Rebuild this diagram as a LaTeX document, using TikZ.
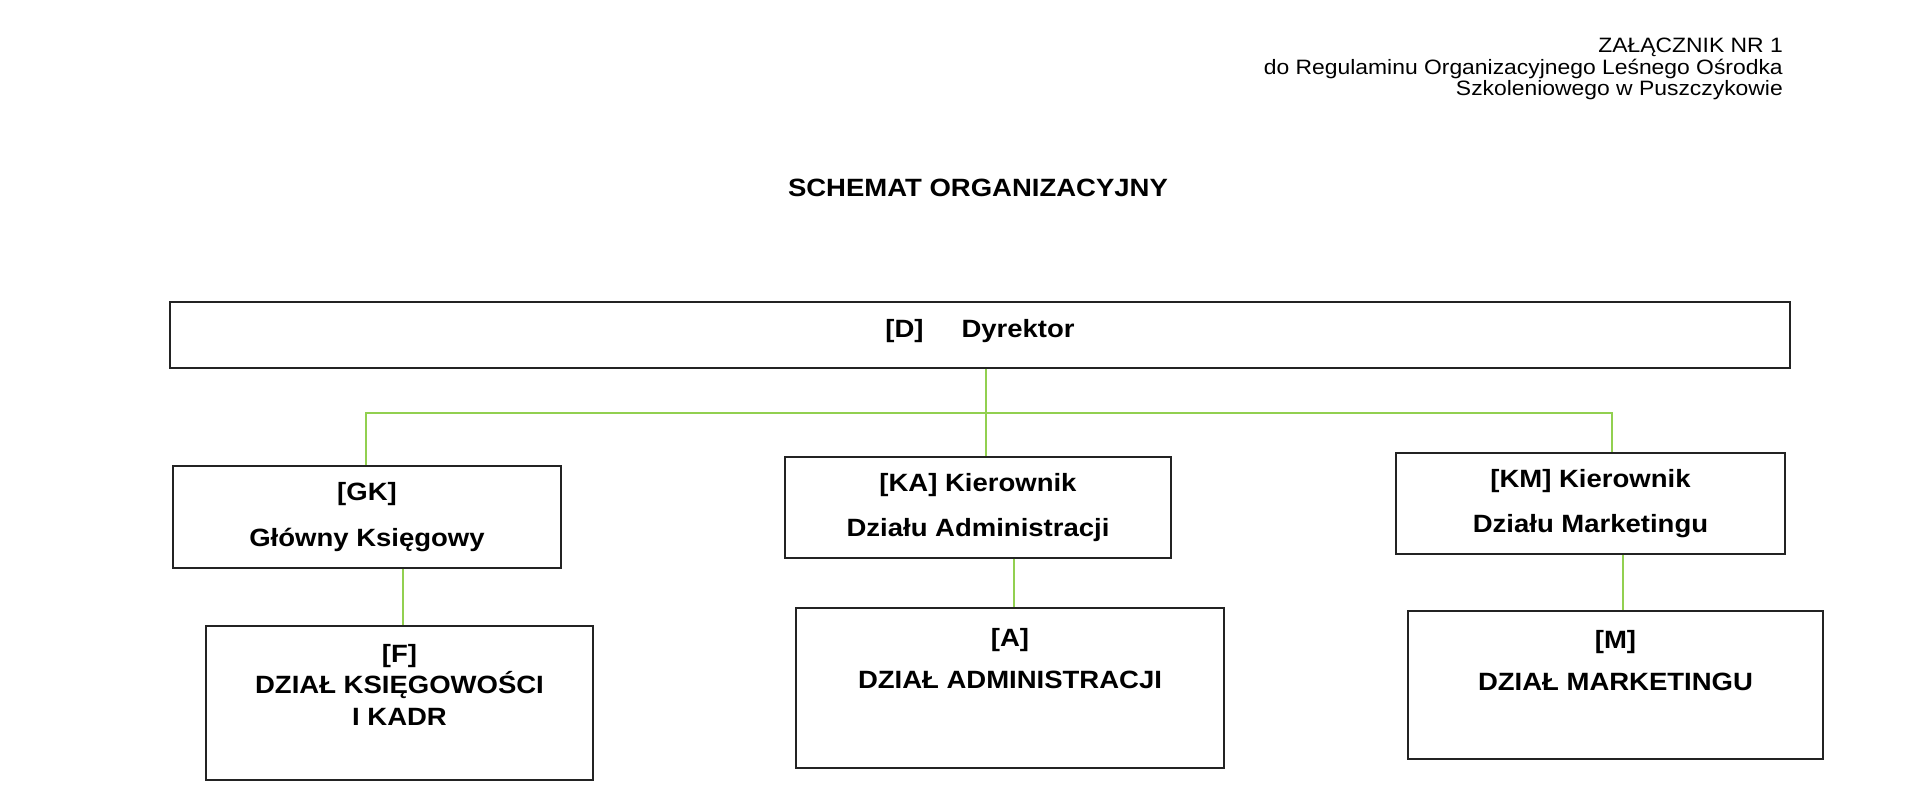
\documentclass[tikz,border=0pt]{standalone}
\usepackage{fontspec}
\setmainfont{Liberation Sans}[FakeStretch=1.1]
\usetikzlibrary{positioning}
\definecolor{linkgreen}{RGB}{146,208,80}
\definecolor{boxline}{RGB}{35,35,35}

\begin{document}
\begin{tikzpicture}[x=1pt, y=-1pt,
    unit/.style={draw=boxline, line width=1.8pt, inner sep=0pt, align=center,
      font=\bfseries\fontsize{25}{45.5}\selectfont},
    depttext/.style={inner sep=0pt, align=center, anchor=north,
      font=\bfseries\fontsize{25}{42.5}\selectfont},
    link/.style={draw=linkgreen, line width=1.6pt}]
    \useasboundingbox (0,0) rectangle (1920,810);

    % header
    \node[anchor=north east, inner sep=0pt, align=right,
      font=\fontsize{20.8}{21.5}\selectfont] (annex) at (1783,38)
      {ZAŁĄCZNIK NR 1\\do Regulaminu Organizacyjnego Leśnego Ośrodka\\Szkoleniowego w Puszczykowie};
    \node[inner sep=0pt, font=\bfseries\fontsize{25}{30}\selectfont] (title) at (978,188)
      {SCHEMAT ORGANIZACYJNY};

    % boxes
    \node[unit, line width=2.5pt, minimum width=1620pt, minimum height=66pt, text depth=14pt]
      (D) at (980,335) {[D]\hspace{38pt}Dyrektor};
    \node[unit, minimum width=388pt, minimum height=102pt] (GK) at (367,517) {[GK]\\Główny Księgowy};
    \node[unit, minimum width=386pt, minimum height=101pt] (KA) at (978,507.5) {[KA] Kierownik\\Działu Administracji};
    \node[unit, minimum width=389pt, minimum height=101pt] (KM) at (1590.5,503.5) {[KM] Kierownik\\Działu Marketingu};
    \node[unit, minimum width=387pt, minimum height=154pt] (F) at (399.5,703) {};
    \node[unit, minimum width=428pt, minimum height=160pt] (A) at (1010,688) {};
    \node[unit, minimum width=415pt, minimum height=148pt] (M) at (1615.5,685) {};
    \node[depttext, below=19pt of F.north, font=\bfseries\fontsize{25}{31.5}\selectfont] (Ftext)
      {[F]\\DZIAŁ KSIĘGOWOŚCI\\I KADR};
    \node[depttext, below=21pt of A.north] (Atext) {[A]\\DZIAŁ ADMINISTRACJI};
    \node[depttext, below=20pt of M.north] (Mtext) {[M]\\DZIAŁ MARKETINGU};

    % connectors
    \coordinate (busL) at (366,413);
    \coordinate (busM) at (986,413);
    \coordinate (busR) at (1612,413);
    \coordinate (fLink) at (403,0);
    \coordinate (aLink) at (1014,0);
    \coordinate (mLink) at (1623,0);
    \draw[link] (D.south -| busM) -- (KA.north -| busM);
    \draw[link] (GK.north -| busL) |- (busR) -- (KM.north -| busR);
    \draw[link] (GK.south -| fLink) -- (F.north -| fLink);
    \draw[link] (KA.south -| aLink) -- (A.north -| aLink);
    \draw[link] (KM.south -| mLink) -- (M.north -| mLink);
\end{tikzpicture}
\end{document}
